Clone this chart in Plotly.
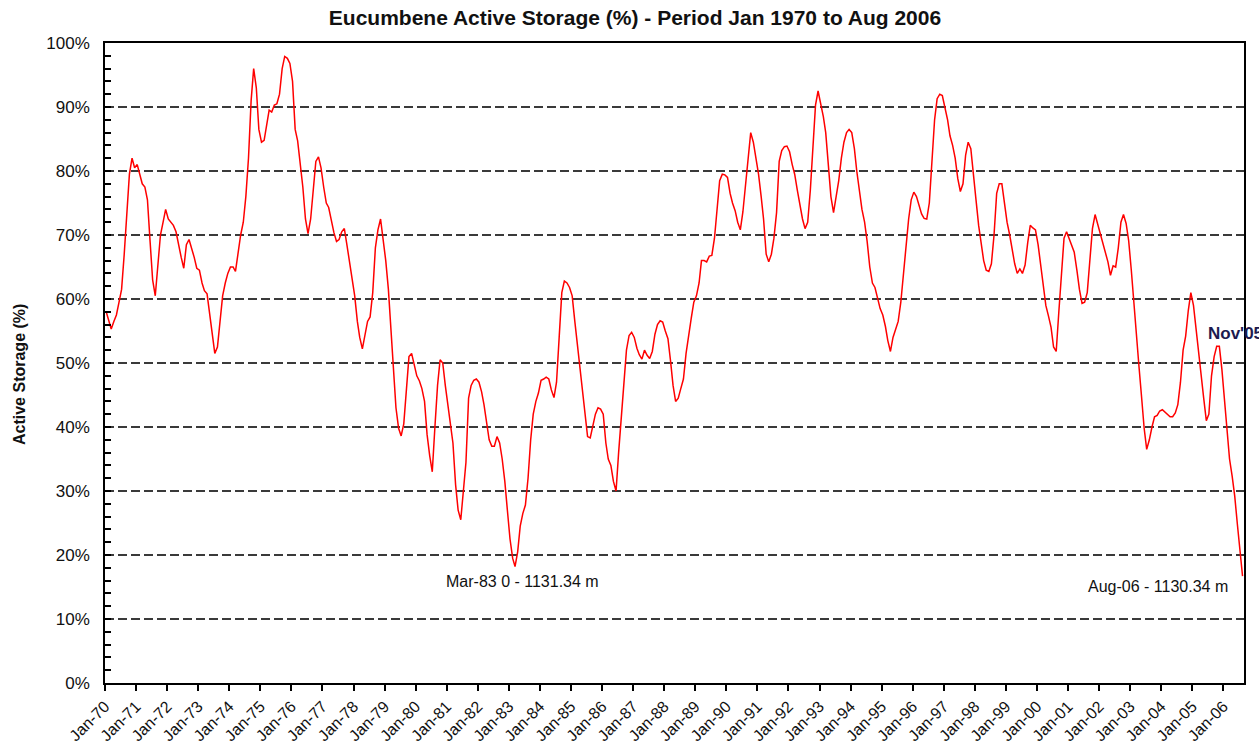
import pandas as pd
import plotly.graph_objects as go

# Monthly active storage (%), Jan-1970 .. Aug-2006
storage_1970s = [
    58, 56.5, 55.3, 56.5, 57.5, 59.5, 61.5, 67, 74, 79.5, 82, 80.5,      # 1970
    81, 79.5, 78, 77.5, 75.5, 69, 63, 60.5, 65, 70, 72, 74,              # 1971
    72.5, 72, 71.5, 70.5, 68.3, 66.5, 64.8, 68.5, 69.3, 68, 66.5, 64.8,  # 1972
    64.5, 62.5, 61.3, 60.8, 58, 55, 51.5, 52.5, 56.5, 60.5, 62.5, 64,    # 1973
    65, 65, 64.3, 67.3, 70, 72, 76, 82, 91, 96, 93, 86.5,                # 1974
    84.5, 84.8, 87, 89.5, 89.2, 90.3, 90.5, 92, 96, 97.9, 97.6, 96.8,    # 1975
    94, 86.5, 84.7, 81, 77.5, 72.5, 70.2, 72.5, 77, 81.5, 82.2, 80.5,    # 1976
    77.5, 75, 74.3, 72, 70.4, 69, 69.3, 70.5, 71, 68.5, 65.8, 63.8,      # 1977
    60.5, 56.5, 54, 52.2, 54.5, 56.5, 57.2, 61, 68, 70.8, 72.5, 69.5,    # 1978
    66, 61.5, 56, 49.5, 43, 39.8, 38.6, 40.5, 46, 51, 51.5, 49.8,        # 1979
]
storage_1980s = [
    48, 47.2, 46, 44, 38.8, 35.5, 33, 40, 46.5, 50.5, 50, 46.5,          # 1980
    43.5, 41, 37.5, 31, 27, 25.5, 30, 34.5, 44.5, 46.5, 47.3, 47.5,      # 1981
    47, 45.5, 43.5, 41, 38, 37, 37, 38.5, 37.5, 35, 31.5, 27,            # 1982
    22.5, 19.5, 18.2, 20.5, 24.5, 26.5, 27.8, 32, 38, 42, 44, 45.3,      # 1983
    47.3, 47.5, 47.8, 47.5, 45.8, 44.6, 47, 54, 61, 62.8, 62.5, 61.8,    # 1984
    60.5, 56.5, 53, 49.5, 45.5, 41.8, 38.5, 38.3, 40.5, 42, 43, 42.8,    # 1985
    42, 37.5, 35, 34, 31.5, 30, 36, 41, 46, 52, 54.3, 54.8,              # 1986
    54, 52.3, 51.3, 50.6, 52, 51.2, 50.7, 51.8, 54.5, 56, 56.6, 56.4,    # 1987
    55, 53.8, 50.5, 46.5, 44, 44.5, 46, 47.5, 51.5, 54.5, 57, 59.5,      # 1988
    60.5, 62.5, 66, 66, 65.8, 66.7, 66.8, 69.5, 74.5, 78.5, 79.5, 79.4,  # 1989
]
storage_1990s = [
    79, 76.5, 75, 73.8, 72, 70.8, 73.6, 77.8, 82, 86, 84.5, 82,          # 1990
    79.5, 76, 72.5, 67, 65.8, 67, 69.5, 73.5, 81.5, 83.2, 83.8, 83.9,    # 1991
    83, 81, 79.5, 77, 74.5, 72.5, 71, 72, 77, 84.5, 90.3, 92.5,          # 1992
    90.5, 88.5, 86, 81.5, 76, 73.5, 76, 78.5, 82, 84.5, 86, 86.5,        # 1993
    86, 83.5, 80, 77, 74, 72, 69, 65, 62.5, 61.8, 60, 58.5,              # 1994
    57.5, 55.7, 53.5, 51.8, 54, 55.2, 56.5, 59.5, 64, 68, 72.5, 75.5,    # 1995
    76.7, 76, 74.5, 73.3, 72.6, 72.5, 75, 81.5, 88, 91.3, 92, 91.8,      # 1996
    90, 88, 85.5, 84, 82, 78.8, 76.8, 78, 82.5, 84.5, 83.5, 80,          # 1997
    75.5, 71.5, 69, 66, 64.5, 64.3, 65.5, 70, 76.5, 78, 78, 75,          # 1998
    72, 70, 67.5, 65.5, 64, 64.7, 64, 65.3, 68.8, 71.5, 71.1, 70.8,      # 1999
]
storage_2000s = [
    68.5, 65, 61.6, 59, 57.4, 55.6, 52.5, 51.8, 58, 64.5, 69.5, 70.5,    # 2000
    69.5, 68.3, 67.3, 64.5, 61.5, 59.3, 59.5, 61, 66.5, 71, 73.2, 71.8,  # 2001
    70, 68.7, 67.4, 65.8, 63.7, 65.2, 65, 68, 72, 73.2, 71.8, 69.1,      # 2002
    64.5, 59, 53.8, 49.5, 44.8, 39.8, 36.5, 38, 40, 41.6, 41.8, 42.5,    # 2003
    42.7, 42.3, 42, 41.6, 41.6, 42.2, 43.5, 47, 52, 54.2, 58.2, 61,      # 2004
    59, 55, 52.5, 48.5, 44.5, 41, 42, 48, 51, 52.6, 52.6, 49,            # 2005
    44.5, 39, 35, 32.3, 29.2, 24.8, 20.3, 16.7,                          # 2006
]

storage = storage_1970s + storage_1980s + storage_1990s + storage_2000s
months = pd.date_range("1970-01-01", periods=len(storage), freq="MS") + pd.Timedelta(days=14)

title_text = "Eucumbene Active Storage (%) - Period Jan 1970 to Aug 2006"
y_title = "Active Storage (%)"
note_low_1983 = ("1983-03-15", 18.2, "Mar-83 0 - 1131.34 m")
note_nov05 = ("2005-11-15", 52.6, "Nov'05")
note_aug06 = ("2006-08-15", 16.7, "Aug-06 - 1130.34 m")

FONT = "Liberation Sans, Arial, Helvetica, sans-serif"
W, H = 1259, 756

fig = go.Figure()
fig.add_trace(go.Scatter(
    x=months, y=storage, mode="lines",
    line=dict(color="#ff0000", width=1.5),
    hoverinfo="x+y", showlegend=False,
))

fig.update_layout(
    width=W, height=H,
    paper_bgcolor="white", plot_bgcolor="white",
    margin=dict(l=105, r=15, t=43, b=73),
    font=dict(family=FONT, color="#000000", size=16),
    title=dict(text="<b>" + title_text + "</b>", xref="container", yref="container",
               x=635 / W, xanchor="center",
               y=1 - 18 / H, yanchor="middle",
               font=dict(family=FONT, size=21, color="#111111")),
)

fig.update_xaxes(
    type="date",
    range=["1970-01-01", "2006-09-01"],
    tick0="1970-01-01", dtick="M12", tickformat="%b-%y",
    tickangle=-45,
    ticks="outside", ticklen=6, tickwidth=1.5, tickcolor="#000000",
    showline=True, linecolor="#000000", linewidth=1.5, mirror=True,
    showgrid=False, zeroline=False,
    tickfont=dict(family=FONT, size=16, color="#111111"),
)
fig.update_yaxes(
    range=[0, 100], dtick=10, tick0=0, ticksuffix="%",
    ticks="inside", ticklen=6, tickwidth=1.5, tickcolor="#000000",
    minor=dict(dtick=2, ticks="inside", ticklen=6, tickwidth=1.5,
               tickcolor="#000000", showgrid=False),
    showline=True, linecolor="#000000", linewidth=1.5, mirror=True,
    showgrid=True, gridcolor="#3a3a3a", gridwidth=1.5, griddash="9px,4px",
    zeroline=False,
    ticklabelstandoff=10,
    tickfont=dict(family=FONT, size=17, color="#111111"),
)

fig.add_annotation(
    xref="paper", yref="paper", x=-(105 - 19) / 1139, y=(683 - 375) / 640,
    text="<b>" + y_title + "</b>", textangle=-90, showarrow=False,
    xanchor="center", yanchor="middle",
    font=dict(family=FONT, size=16, color="#111111"),
)
fig.add_annotation(
    x=note_low_1983[0], y=note_low_1983[1], text=note_low_1983[2],
    showarrow=False, xanchor="center", yanchor="top", xshift=7, yshift=-4,
    font=dict(family=FONT, size=16, color="#111111"),
)
fig.add_annotation(
    x=note_aug06[0], y=note_aug06[1], text=note_aug06[2],
    showarrow=False, xanchor="right", yanchor="middle", xshift=-13, yshift=-10,
    font=dict(family=FONT, size=16, color="#111111"),
)
fig.add_annotation(
    x=note_nov05[0], y=note_nov05[1], text="<b>" + note_nov05[2] + "</b>",
    showarrow=False, xanchor="left", yanchor="middle", xshift=-13, yshift=13,
    font=dict(family=FONT, size=17, color="#1d1a4f"),
)

# remove the default 8px page margin so the figure sits at the window's corner
fig.write_html("out.html",
               config={"displayModeBar": False},
               post_script="document.body.style.margin='0';document.body.style.overflow='hidden';")
